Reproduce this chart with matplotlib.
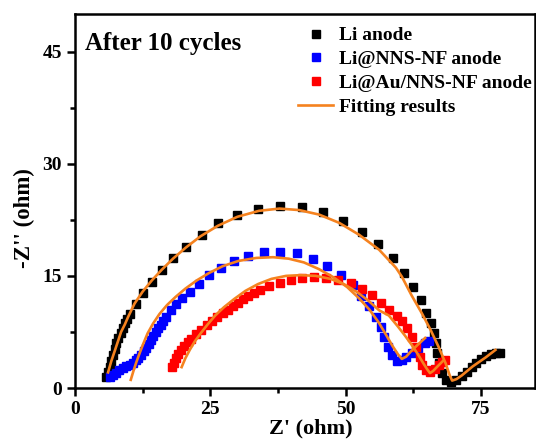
import matplotlib
matplotlib.use("Agg")
import matplotlib.pyplot as plt
from matplotlib.ticker import MultipleLocator

plt.rcParams["font.family"] = ["Liberation Serif", "DejaVu Serif"]
plt.rcParams["font.weight"] = "bold"

# Li anode (black squares)
li_x = [5.7, 6.0, 6.4, 6.7, 7.0, 7.3, 7.6, 8.0, 8.5, 8.8, 9.2, 9.6, 10.1, 11.2, 12.6,
        14.2, 16.0, 18.1, 20.6, 23.4, 26.5, 30.0, 33.9, 37.8, 42.0, 45.9, 49.5, 53.0,
        56.0, 58.7, 60.8, 62.4, 63.9, 64.8, 65.7, 66.3, 66.7, 66.9, 67.2, 67.8, 68.5,
        69.4, 70.5, 71.5, 72.4, 73.3, 74.2, 75.1, 76.0, 76.9, 77.8, 78.6]
li_y = [1.5, 2.2, 2.8, 3.6, 4.4, 5.2, 6.0, 6.7, 7.3, 8.0, 8.7, 9.3, 9.9, 11.2, 12.7,
        14.2, 15.8, 17.4, 18.9, 20.5, 22.1, 23.2, 24.0, 24.4, 24.2, 23.5, 22.4, 20.9,
        19.3, 17.4, 15.4, 13.5, 11.8, 10.0, 8.7, 7.3, 6.0, 4.7, 3.3, 2.0, 1.1,
        0.8, 1.1, 1.6, 2.2, 2.8, 3.4, 3.9, 4.3, 4.6, 4.7, 4.7]

# Li@NNS-NF anode (blue squares)
nns_x = [6.4, 7.0, 7.6, 8.2, 8.8, 9.5, 10.1, 10.7, 11.2, 11.7, 12.2, 12.7, 13.1, 13.6,
         14.0, 14.5, 14.9, 15.4, 15.8, 16.3, 16.8, 17.7, 18.6, 19.7, 21.2, 23.0, 24.7,
         26.9, 29.3, 32.0, 35.0, 37.9, 41.1, 44.0, 46.6, 49.2, 51.3, 52.9, 54.3, 55.6,
         56.5, 57.1, 57.8, 58.6, 59.5, 60.4, 61.1, 62.2, 63.4, 64.6, 65.4]
nns_y = [1.5, 1.7, 2.0, 2.4, 2.7, 2.9, 3.1, 3.4, 3.7, 4.0, 4.4, 4.9, 5.4, 5.9,
         6.4, 7.0, 7.5, 8.0, 8.4, 9.0, 9.5, 10.4, 11.2, 12.0, 12.9, 13.9, 15.1,
         16.1, 17.0, 17.7, 18.2, 18.2, 18.0, 17.3, 16.3, 15.1, 13.8, 12.3, 11.0, 9.5,
         8.2, 6.8, 5.5, 4.4, 3.6, 3.7, 4.1, 4.7, 5.4, 6.0, 6.3]

# Li@Au/NNS-NF anode (red squares)
au_x = [18.0, 18.3, 18.7, 19.1, 19.6, 20.2, 20.8, 21.5, 22.3, 23.2, 24.3, 25.3, 26.3,
        27.3, 28.2, 29.2, 30.2, 31.1, 32.0, 33.0, 34.1, 35.9, 37.9, 40.0, 42.0, 44.2,
        46.4, 48.6, 51.0, 53.0, 54.9, 56.5, 58.0, 59.5, 60.4, 61.3, 62.2, 63.1, 63.8,
        64.2, 64.8, 65.6, 66.5, 67.2, 67.8, 68.3]
au_y = [2.8, 3.4, 4.0, 4.6, 5.1, 5.6, 6.1, 6.6, 7.2, 7.8, 8.5, 9.0, 9.5,
        10.0, 10.5, 11.0, 11.4, 11.9, 12.3, 12.7, 13.1, 13.6, 14.1, 14.4, 14.7, 14.8,
        14.7, 14.5, 14.0, 13.3, 12.4, 11.4, 10.5, 9.6, 9.0, 8.0, 6.8, 5.5, 4.2,
        3.1, 2.4, 2.1, 2.6, 3.1, 3.5, 3.8]

# Fitting results (orange lines)
li_fit_x = [6.1, 6.7, 7.4, 8.0, 8.5, 9.2, 9.8, 11.0, 12.5, 14.2, 16.0, 18.1, 20.5, 23.2,
            26.4, 30.0, 34.0, 37.8, 41.4, 45.1, 48.8, 52.5, 56.2, 59.3, 60.4, 62.2, 64.1,
            65.7, 67.2, 68.5, 69.2, 69.7, 70.5, 71.5, 72.5, 73.5, 74.7, 75.9, 76.8, 77.7]
li_fit_y = [2.1, 3.6, 5.1, 6.4, 7.5, 8.5, 9.5, 11.3, 12.9, 14.4, 15.8, 17.3, 18.8, 20.3,
            21.7, 22.9, 23.7, 24.0, 23.8, 23.2, 22.1, 20.5, 18.5, 16.1, 14.9, 12.4, 10.0,
            7.8, 5.5, 3.3, 1.8, 1.0, 1.2, 1.7, 2.3, 2.9, 3.5, 4.1, 4.6, 5.1]

nns_fit_x = [10.3, 10.8, 11.3, 11.9, 12.6, 13.4, 14.4, 15.6, 17.0, 18.6, 20.4, 22.5, 24.8,
             27.3, 30.2, 33.5, 36.6, 39.5, 42.3, 45.1, 47.8, 50.3, 52.5, 54.4, 56.1, 57.5,
             58.7, 59.7, 60.4, 61.2, 62.2, 63.5, 64.7]
nns_fit_y = [1.1, 2.3, 3.4, 4.6, 5.9, 7.3, 8.6, 9.9, 11.1, 12.2, 13.3, 14.4, 15.4,
             16.3, 17.0, 17.4, 17.5, 17.3, 16.8, 15.9, 14.8, 13.5, 12.0, 10.5, 8.8, 7.1,
             5.6, 4.5, 3.9, 4.2, 5.0, 5.9, 6.7]

au_fit_x = [19.7, 20.4, 21.2, 22.1, 23.2, 24.5, 25.9, 27.5, 29.4, 31.5, 33.8, 36.3, 39.0,
            41.7, 44.5, 47.2, 49.7, 52.0, 54.2, 56.2, 58.0, 59.6, 61.0, 62.2, 63.3, 64.3,
            65.0, 65.6, 66.2, 67.0, 68.1]
au_fit_y = [2.8, 4.0, 5.1, 6.2, 7.3, 8.5, 9.7, 10.8, 11.9, 13.0, 13.9, 14.6, 15.0,
            15.1, 15.0, 14.6, 13.9, 12.9, 11.7, 10.4, 9.7, 8.3, 7.0, 5.8, 4.6, 3.4,
            2.6, 2.0, 2.3, 2.9, 3.7]

FIT_COLOR = "#f5821f"


def main() -> None:
    fig = plt.figure(figsize=(5.36, 4.41), dpi=100)
    ax = fig.add_axes([0.140, 0.120, 0.858, 0.848])

    ms = 6.3
    ax.plot(li_x, li_y, linestyle="", marker="s", ms=ms, color="black", label="Li anode")
    ax.plot(nns_x, nns_y, linestyle="", marker="s", ms=ms, color="#0000ff",
            label="Li@NNS-NF anode")
    ax.plot(au_x, au_y, linestyle="", marker="s", ms=ms, color="#ff0000",
            label="Li@Au/NNS-NF anode")
    ax.plot(li_fit_x, li_fit_y, color=FIT_COLOR, lw=1.9, label="Fitting results")
    ax.plot(nns_fit_x, nns_fit_y, color=FIT_COLOR, lw=1.9)
    ax.plot(au_fit_x, au_fit_y, color=FIT_COLOR, lw=1.9)

    ax.set_xlim(0, 85)
    ax.set_ylim(0, 50)
    ax.xaxis.set_major_locator(MultipleLocator(25))
    ax.xaxis.set_minor_locator(MultipleLocator(12.5))
    ax.yaxis.set_major_locator(MultipleLocator(15))
    ax.yaxis.set_minor_locator(MultipleLocator(7.5))
    ax.tick_params(which="both", direction="out", width=1.8, labelsize=14,
                   top=False, right=False)
    ax.tick_params(which="major", length=6)
    ax.tick_params(which="minor", length=3.5)
    for label in ax.get_xticklabels() + ax.get_yticklabels():
        label.set_fontweight("bold")
    for spine in ax.spines.values():
        spine.set_linewidth(1.8)

    ax.set_xlabel("Z' (ohm)", fontsize=16, fontweight="bold")
    ax.set_ylabel("-Z'' (ohm)", fontsize=16.5, fontweight="bold")
    ax.xaxis.set_label_coords(0.513, -0.081)
    ax.yaxis.set_label_coords(-0.088, 0.455)

    ax.text(0.022, 0.952, "After 10 cycles", transform=ax.transAxes, ha="left",
            va="top", fontsize=18, fontweight="bold")

    ax.legend(loc="upper left", bbox_to_anchor=(0.485, 0.966), frameon=False,
              prop={"weight": "bold", "size": 14}, borderpad=0,
              handlelength=1.8, handletextpad=0.3, labelspacing=0.32,
              borderaxespad=0)

    fig.savefig("out.png", dpi=100)


if __name__ == "__main__":
    main()
